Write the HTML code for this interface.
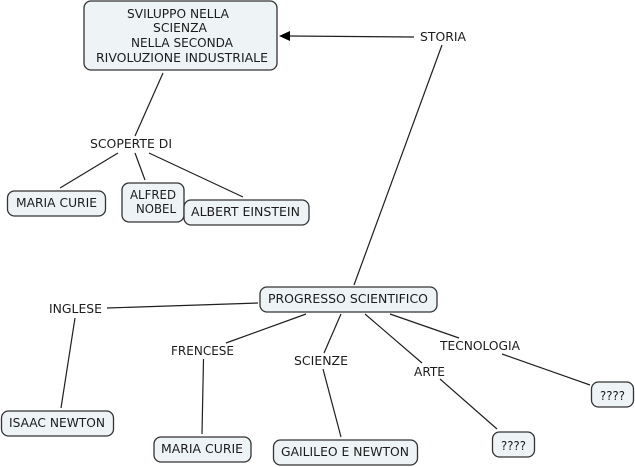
<!DOCTYPE html>
<html>
<head>
<meta charset="utf-8">
<style>
html,body{margin:0;padding:0;background:#fff;width:635px;height:467px;overflow:hidden}
svg{display:block}
text{font-family:"DejaVu Sans","Liberation Sans",sans-serif;font-size:12px;fill:#1c1c1c}
rect{fill:#eef3f6;stroke:#333;stroke-width:1.3}
line{stroke:#1f1f1f;stroke-width:1.2}
</style>
</head>
<body>
<svg width="635" height="467" viewBox="0 0 635 467" xmlns="http://www.w3.org/2000/svg">
<line x1="163" y1="73" x2="135" y2="136"/>
<line x1="118" y1="153" x2="60" y2="188"/>
<line x1="135" y1="153" x2="145" y2="180"/>
<line x1="149" y1="153" x2="243" y2="197"/>
<line x1="289" y1="36" x2="414" y2="37"/>
<polygon points="279,36 290,31 290,41" fill="#000"/>
<line x1="442" y1="45" x2="354" y2="285"/>
<line x1="107" y1="308" x2="258" y2="303"/>
<line x1="75" y1="318" x2="61" y2="408"/>
<line x1="226" y1="343" x2="306" y2="314"/>
<line x1="203.500" y1="359" x2="202" y2="434"/>
<line x1="341" y1="314" x2="324" y2="353"/>
<line x1="323" y1="369" x2="341" y2="437"/>
<line x1="365" y1="314" x2="422" y2="363"/>
<line x1="440" y1="379" x2="497" y2="429"/>
<line x1="390" y1="314" x2="459" y2="338"/>
<line x1="502" y1="354" x2="590" y2="385"/>

<rect x="84" y="1" width="193" height="69" rx="7"/>
<rect x="7.500" y="191" width="98" height="25" rx="7"/>
<rect x="122" y="183" width="62" height="39" rx="7"/>
<rect x="184" y="200" width="125" height="25" rx="7"/>
<rect x="260" y="287" width="177" height="25" rx="7"/>
<rect x="1.500" y="411" width="112" height="25" rx="7"/>
<rect x="154" y="437" width="97" height="25" rx="7"/>
<rect x="273.500" y="440" width="144" height="25" rx="7"/>
<rect x="492.500" y="432" width="42" height="25" rx="7"/>
<rect x="591.500" y="382" width="42" height="25" rx="7"/>

<text x="127" y="18" textLength="102" lengthAdjust="spacingAndGlyphs">SVILUPPO NELLA</text>
<text x="153" y="32" textLength="54" lengthAdjust="spacingAndGlyphs">SCIENZA</text>
<text x="131" y="47" textLength="102" lengthAdjust="spacingAndGlyphs">NELLA SECONDA</text>
<text x="96" y="62" textLength="172" lengthAdjust="spacingAndGlyphs">RIVOLUZIONE INDUSTRIALE</text>
<text x="90" y="148" textLength="82" lengthAdjust="spacingAndGlyphs">SCOPERTE DI</text>
<text x="16" y="207" textLength="81" lengthAdjust="spacingAndGlyphs">MARIA CURIE</text>
<text x="130" y="199" textLength="46" lengthAdjust="spacingAndGlyphs">ALFRED</text>
<text x="136" y="213" textLength="40" lengthAdjust="spacingAndGlyphs">NOBEL</text>
<text x="191" y="216" textLength="109" lengthAdjust="spacingAndGlyphs">ALBERT EINSTEIN</text>
<text x="420" y="41" textLength="46" lengthAdjust="spacingAndGlyphs">STORIA</text>
<text x="268" y="303" textLength="160" lengthAdjust="spacingAndGlyphs">PROGRESSO SCIENTIFICO</text>
<text x="49" y="313" textLength="53" lengthAdjust="spacingAndGlyphs">INGLESE</text>
<text x="9" y="427" textLength="96" lengthAdjust="spacingAndGlyphs">ISAAC NEWTON</text>
<text x="171" y="355" textLength="63" lengthAdjust="spacingAndGlyphs">FRENCESE</text>
<text x="161" y="453" textLength="82" lengthAdjust="spacingAndGlyphs">MARIA CURIE</text>
<text x="294" y="365" textLength="54" lengthAdjust="spacingAndGlyphs">SCIENZE</text>
<text x="281" y="456" textLength="128" lengthAdjust="spacingAndGlyphs">GAILILEO E NEWTON</text>
<text x="414" y="376" textLength="31" lengthAdjust="spacingAndGlyphs">ARTE</text>
<text x="501" y="450" textLength="25" lengthAdjust="spacingAndGlyphs">????</text>
<text x="440" y="350" textLength="80" lengthAdjust="spacingAndGlyphs">TECNOLOGIA</text>
<text x="600" y="400" textLength="25" lengthAdjust="spacingAndGlyphs">????</text>
</svg>
</body>
</html>
